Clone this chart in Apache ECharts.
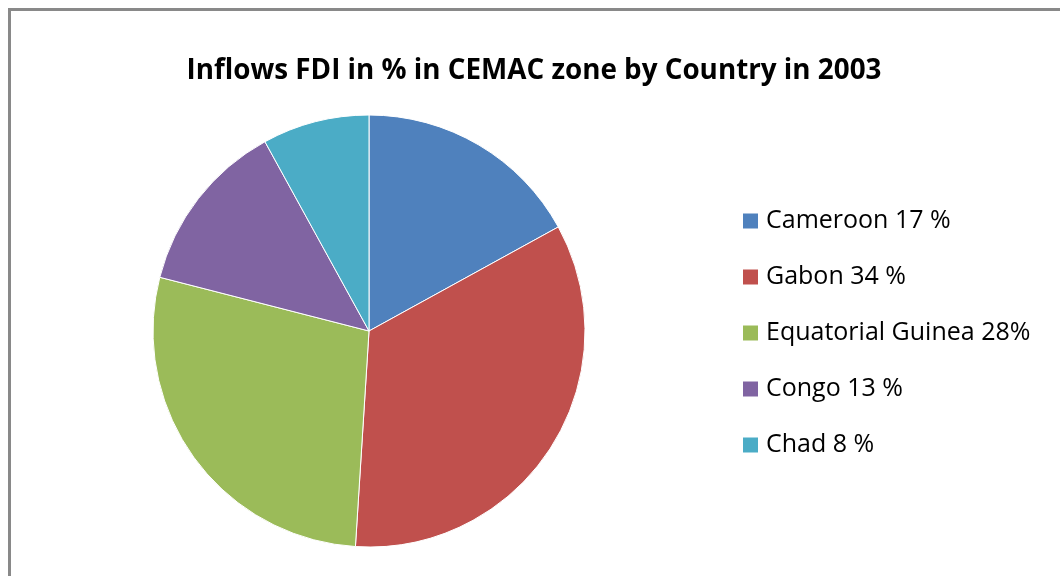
<!DOCTYPE html>
<html lang="en">
<head>
    <meta charset="UTF-8">
    <title>Inflows FDI CEMAC 2003</title>
    <script src="https://cdn.jsdelivr.net/npm/echarts@6/dist/echarts.min.js"></script>
    <style>
        body { margin: 0; background: #fff; }
    </style>
</head>
<body>
<div id="chart" style="width: 1060px;height:576px;"></div>
<script type="text/javascript">
    var countries = ['Cameroon', 'Gabon', 'Equatorial Guinea', 'Congo', 'Chad'];
    var shares = [17, 34, 28, 13, 8];
    var legendLabels = ['Cameroon 17 %', 'Gabon 34 %', 'Equatorial Guinea 28%', 'Congo 13 %', 'Chad 8 %'];
    var colors = ['#4F81BD', '#C0504D', '#9BBB59', '#8064A2', '#4BACC6'];

    var chart = echarts.init(document.getElementById('chart'));

    var pieData = countries.map(function (name, i) {
        return {name: name, value: shares[i]};
    });

    var option = {
        color: colors,
        animation: false,
        title: {
            text: 'Inflows FDI in % in CEMAC zone by Country in 2003',
            left: 529,
            textAlign: 'center',
            top: 52,
            textStyle: {
                fontFamily: 'Open Sans',
                fontWeight: 'bold',
                fontSize: 27.8,
                color: '#000'
            }
        },
        graphic: [{
            type: 'rect',
            shape: {x: 9.5, y: 9.5, width: 1100, height: 600},
            style: {fill: null, stroke: '#898989', lineWidth: 3},
            silent: true
        }],
        legend: {
            orient: 'vertical',
            left: 741,
            top: 206,
            padding: 0,
            icon: 'rect',
            itemWidth: 17,
            itemHeight: 17,
            itemGap: 26,
            data: countries,
            formatter: function (name) {
                return legendLabels[countries.indexOf(name)];
            },
            textStyle: {
                fontFamily: 'Open Sans',
                fontSize: 25,
                lineHeight: 30,
                color: '#000',
                padding: [0, 0, 0, 2]
            }
        },
        series: [{
            type: 'pie',
            center: [369, 331],
            radius: 216,
            startAngle: 90,
            clockwise: true,
            label: {show: false},
            labelLine: {show: false},
            itemStyle: {borderColor: '#fff', borderWidth: 1},
            emphasis: {disabled: true},
            data: pieData
        }]
    };

    chart.setOption(option);
</script>
</body>
</html>
